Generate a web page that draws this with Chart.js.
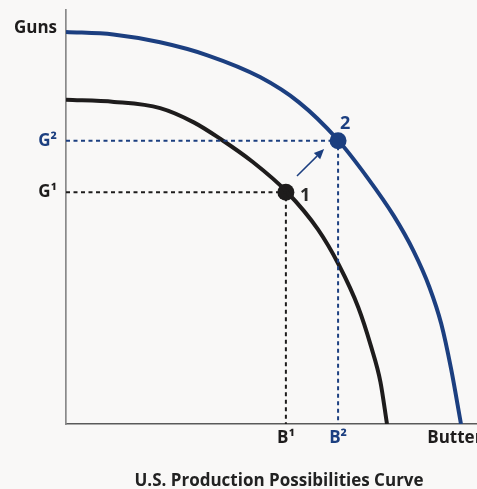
<!DOCTYPE html>
<html>
<head>
<meta charset="utf-8">
<script src="https://cdn.jsdelivr.net/npm/chart.js@4"></script>
<style>
    html, body { margin: 0; padding: 0; background: #f9f8f7; }
    #wrap { width: 477px; height: 489px; }
</style>
</head>
<body>
<div id="wrap"><canvas id="ppcChart"></canvas></div>
<script>
// curve 1 (original) and curve 2 (shifted out), butter on x, guns on y
const curve1Butter = [0, 11.7, 22.9, 31.2, 37.5, 45.3, 53.7, 61.3, 66.4, 71.1, 74.2, 76.5, 78.1];
const curve1Guns = [78.3, 77.8, 76.3, 72.8, 68.9, 63.4, 56.1, 47.0, 38.4, 28.2, 18.8, 10.2, 0];
const curve2Butter = [0, 11.5, 22.9, 34.6, 47.2, 56.7, 65.9, 73.2, 79.8, 84.6, 88.4, 91.3, 93.7, 96.1];
const curve2Guns = [94.7, 94.1, 92.2, 89.0, 83.8, 77.7, 68.9, 59.7, 50.2, 41.7, 33.1, 24.2, 13.3, 0];

const point1 = { x: 53.5, y: 56.0 };
const point2 = { x: 66.2, y: 68.4 };
const arrowFrom = { x: 56.2, y: 59.9 };
const arrowTo = { x: 62.8, y: 66.4 };

const xTickValues = [53.5, 66.2, 94.6];
const xTickLabels = ["B\u00b9", "B\u00b2", "Butter"];
const yTickValues = [56.0, 68.4, 95.7];
const yTickLabels = ["G\u00b9", "G\u00b2", "Guns"];

const BLUE = "#1c3f80";
const BLACK = "#1e1c1c";
const tickColors = [BLACK, BLUE, BLACK];
const FONT = "'Open Sans'";

function toPoints(xs, ys) {
    return xs.map((x, i) => ({ x: x, y: ys[i] }));
}

const extras = {
    id: "extras",
    afterDatasetsDraw(chart) {
        const ctx = chart.ctx;
        const xs = chart.scales.x, ys = chart.scales.y;
        // arrow from 1 to 2
        const x0 = xs.getPixelForValue(arrowFrom.x), y0 = ys.getPixelForValue(arrowFrom.y);
        const x1 = xs.getPixelForValue(arrowTo.x), y1 = ys.getPixelForValue(arrowTo.y);
        const ang = Math.atan2(y1 - y0, x1 - x0);
        const hl = 10, hw = 4.5;
        ctx.save();
        ctx.strokeStyle = BLUE;
        ctx.fillStyle = BLUE;
        ctx.lineWidth = 1.5;
        ctx.beginPath();
        ctx.moveTo(x0, y0);
        ctx.lineTo(x1 - hl * Math.cos(ang), y1 - hl * Math.sin(ang));
        ctx.stroke();
        ctx.beginPath();
        ctx.moveTo(x1, y1);
        ctx.lineTo(x1 - hl * Math.cos(ang) + hw * Math.sin(ang), y1 - hl * Math.sin(ang) - hw * Math.cos(ang));
        ctx.lineTo(x1 - hl * Math.cos(ang) - hw * Math.sin(ang), y1 - hl * Math.sin(ang) + hw * Math.cos(ang));
        ctx.closePath();
        ctx.fill();

        // point labels
        ctx.font = "bold 18px " + FONT;
        ctx.textBaseline = "middle";
        ctx.textAlign = "left";
        ctx.fillStyle = "#2a2a2a";
        ctx.fillText("1", xs.getPixelForValue(point1.x) + 14, ys.getPixelForValue(point1.y) + 4);
        ctx.fillStyle = BLUE;
        ctx.fillText("2", xs.getPixelForValue(point2.x) + 2, ys.getPixelForValue(point2.y) - 17);

        // caption
        ctx.fillStyle = "#222";
        ctx.textAlign = "center";
        ctx.font = "bold 17px " + FONT;
        ctx.fillText("U.S. Production Possibilities Curve", 279, 481);
        ctx.restore();
    }
};

document.addEventListener("DOMContentLoaded", () => {
    const ctx = document.getElementById("ppcChart").getContext("2d");
    new Chart(ctx, {
        type: "line",
        data: {
            datasets: [
                {
                    data: [{ x: 0, y: point2.y }, { x: point2.x, y: point2.y }, { x: point2.x, y: 0 }],
                    borderColor: BLUE,
                    borderWidth: 2,
                    borderDash: [4, 3.5],
                    pointRadius: 0,
                    tension: 0
                },
                {
                    data: [{ x: 0, y: point1.y }, { x: point1.x, y: point1.y }, { x: point1.x, y: 0 }],
                    borderColor: BLACK,
                    borderWidth: 2,
                    borderDash: [4, 3.5],
                    pointRadius: 0,
                    tension: 0
                },
                {
                    data: toPoints(curve1Butter, curve1Guns),
                    borderColor: BLACK,
                    borderWidth: 4,
                    pointRadius: 0,
                    cubicInterpolationMode: "monotone"
                },
                {
                    data: toPoints(curve2Butter, curve2Guns),
                    borderColor: BLUE,
                    borderWidth: 4,
                    pointRadius: 0,
                    cubicInterpolationMode: "monotone"
                },
                {
                    data: [point1],
                    showLine: false,
                    pointRadius: 8.5,
                    pointBackgroundColor: BLACK,
                    pointBorderWidth: 0
                },
                {
                    data: [point2],
                    showLine: false,
                    pointRadius: 8.5,
                    pointBackgroundColor: BLUE,
                    pointBorderWidth: 0
                }
            ]
        },
        options: {
            responsive: true,
            maintainAspectRatio: false,
            animation: false,
            layout: { padding: { top: 10, right: 0, left: 0, bottom: 0 }, autoPadding: false },
            plugins: {
                legend: { display: false },
                tooltip: { enabled: false }
            },
            scales: {
                x: {
                    type: "linear",
                    min: 0,
                    max: 100,
                    grid: { display: false, drawTicks: false },
                    border: { display: true, color: "#5a5a5a", width: 1.5 },
                    afterBuildTicks: (scale) => {
                        scale.ticks = xTickValues.map(v => ({ value: v }));
                    },
                    afterFit: (scale) => {
                        scale.height = 65;
                        scale.paddingLeft = 0;
                        scale.paddingRight = 0;
                    },
                    ticks: {
                        autoSkip: false,
                        maxRotation: 0,
                        padding: 4,
                        font: { family: FONT, size: 17, weight: "bold" },
                        color: (c) => tickColors[c.index],
                        callback: (v, i) => xTickLabels[i]
                    }
                },
                y: {
                    type: "linear",
                    min: 0,
                    max: 100,
                    grid: { display: false, drawTicks: false },
                    border: { display: true, color: "#8a8a8a", width: 1.7 },
                    afterBuildTicks: (scale) => {
                        scale.ticks = yTickValues.map(v => ({ value: v }));
                    },
                    afterFit: (scale) => {
                        scale.width = 66;
                        scale.paddingTop = 0;
                        scale.paddingBottom = 0;
                    },
                    ticks: {
                        autoSkip: false,
                        padding: 9,
                        font: { family: FONT, size: 17, weight: "bold" },
                        color: (c) => tickColors[c.index],
                        callback: (v, i) => yTickLabels[i]
                    }
                }
            }
        },
        plugins: [extras]
    });
});
</script>
</body>
</html>
